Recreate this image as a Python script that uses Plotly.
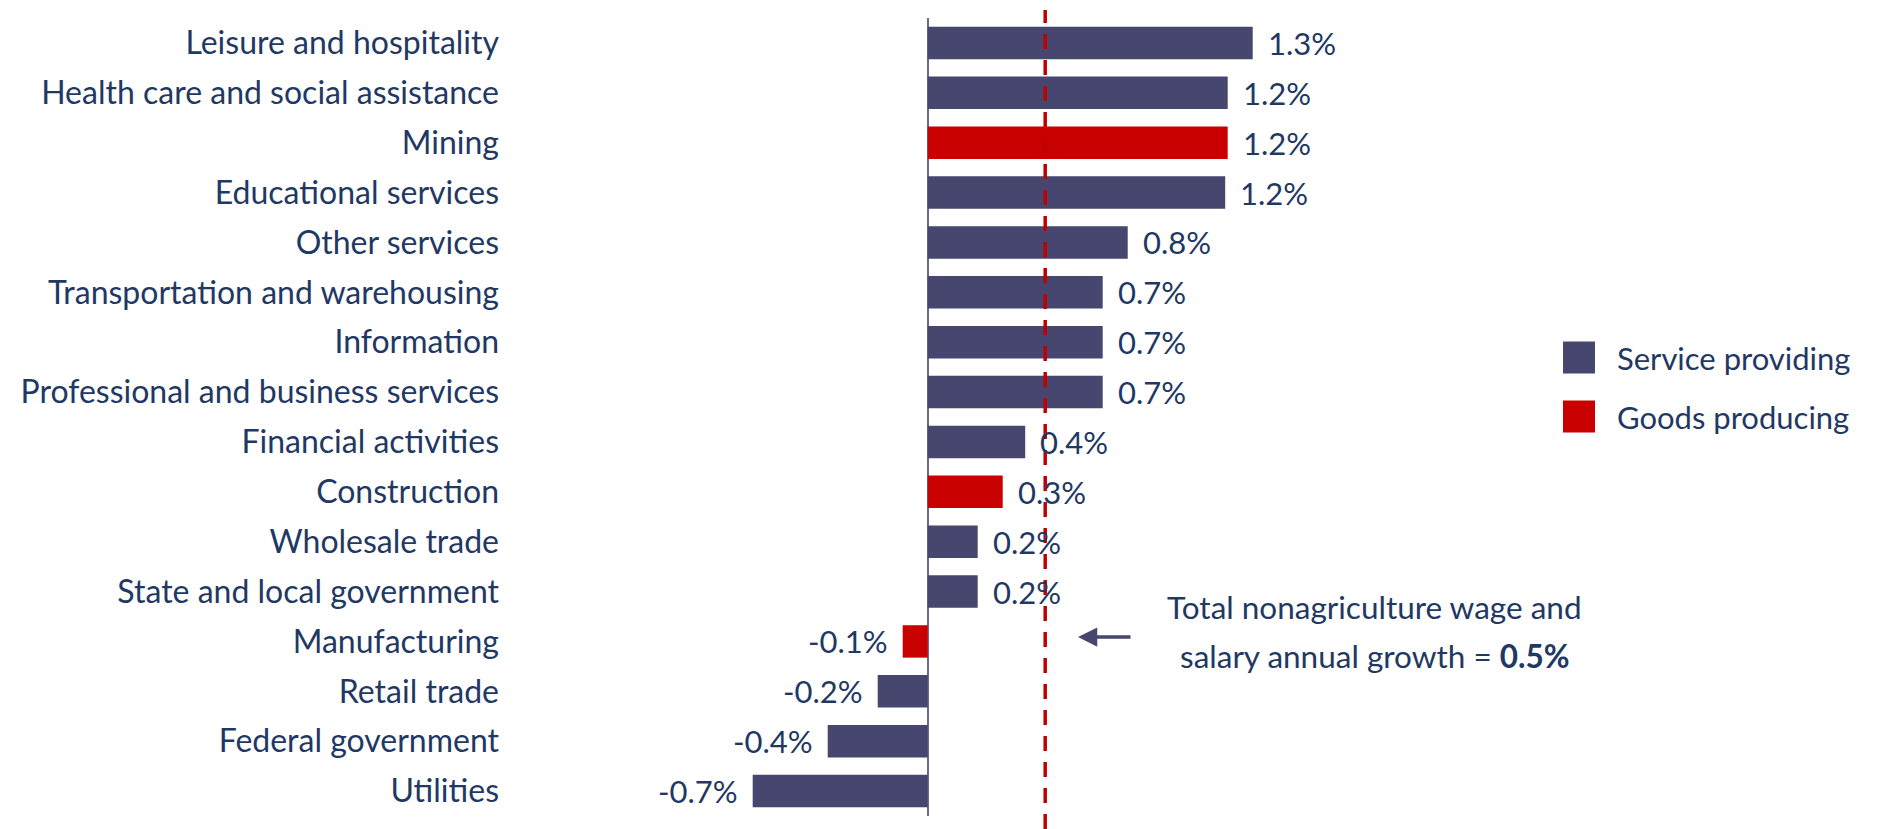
import plotly.graph_objects as go

# ---------------- data ----------------
categories = [
    "Leisure and hospitality",
    "Health care and social assistance",
    "Mining",
    "Educational services",
    "Other services",
    "Transportation and warehousing",
    "Information",
    "Professional and business services",
    "Financial activities",
    "Construction",
    "Wholesale trade",
    "State and local government",
    "Manufacturing",
    "Retail trade",
    "Federal government",
    "Utilities",
]
growth = [1.30, 1.20, 1.20, 1.19, 0.80, 0.70, 0.70, 0.70, 0.39, 0.30, 0.20, 0.20,
          -0.10, -0.20, -0.40, -0.70]
sector = ["Service", "Service", "Goods", "Service", "Service", "Service", "Service",
          "Service", "Service", "Goods", "Service", "Service", "Goods", "Service",
          "Service", "Service"]
total_growth = 0.47
legend_names = {"Service": "Service providing", "Goods": "Goods producing"}

# ---------------- style ----------------
W, H = 1883, 829
ML, MR, MT, MB = 500, 10, 18, 13
PX_PER_UNIT = 250.0
ZERO_PX = 927.7
FONT = "Lato"
TXT = "#1F3864"
COLORS = {"Service": "#46466E", "Goods": "#C80000"}
FS = 31

xmin = -(ZERO_PX - ML) / PX_PER_UNIT
xmax = (W - MR - ZERO_PX) / PX_PER_UNIT
plot_w = W - ML - MR
plot_h = H - MT - MB


def px_x(p):
    return (p - ML) / plot_w


def px_y(p):
    return (H - MB - p) / plot_h


fig = go.Figure()
for key in ["Service", "Goods"]:
    ys = [c for c, s in zip(categories, sector) if s == key]
    xs = [v for v, s in zip(growth, sector) if s == key]
    fig.add_trace(go.Bar(
        x=xs, y=ys, orientation="h", name=legend_names[key],
        marker=dict(color=COLORS[key], line=dict(width=0)),
        showlegend=False, hoverinfo="x+y",
    ))

annotations = []
# value labels
for c, v in zip(categories, growth):
    annotations.append(dict(
        x=v, y=c, xref="x", yref="y",
        text=f"{v:.1f}%", showarrow=False,
        xanchor="left" if v >= 0 else "right",
        xshift=13 if v >= 0 else -13,
        font=dict(family=FONT, size=FS, color=TXT),
    ))

# total annotation text
annotations.append(dict(
    x=px_x(1374.5), y=px_y(607), xref="paper", yref="paper",
    text="Total nonagriculture wage and", showarrow=False,
    xanchor="center", yanchor="middle",
    font=dict(family=FONT, size=FS + 0.5, color=TXT),
))
annotations.append(dict(
    x=px_x(1374.5), y=px_y(656), xref="paper", yref="paper",
    text=f"salary annual growth = <b>{total_growth:.1f}%</b>", showarrow=False,
    xanchor="center", yanchor="middle",
    font=dict(family=FONT, size=FS + 0.5, color=TXT),
))
# arrow
annotations.append(dict(
    x=px_x(1078), y=px_y(637), xref="paper", yref="paper",
    ax=54, ay=0, text="", showarrow=True,
    arrowhead=2, arrowsize=1.1, arrowwidth=3.5, arrowcolor="#46466E",
))

shapes = []
# dashed total line
shapes.append(dict(
    type="line", xref="x", yref="paper",
    x0=total_growth, x1=total_growth, y0=px_y(829), y1=px_y(10),
    line=dict(color="#C00000", width=3.5, dash="15px,11px"), layer="above",
))

# custom legend
leg_items = [("Service", 357.5), ("Goods", 416.5)]
for key, yc in leg_items:
    shapes.append(dict(
        type="rect", xref="paper", yref="paper",
        x0=px_x(1563), x1=px_x(1595), y0=px_y(yc + 16), y1=px_y(yc - 16),
        fillcolor=COLORS[key], line=dict(width=0),
    ))
    annotations.append(dict(
        x=px_x(1615), y=px_y(yc), xref="paper", yref="paper",
        text=legend_names[key], showarrow=False,
        xanchor="left", yanchor="middle",
        font=dict(family=FONT, size=FS, color=TXT),
    ))

fig.update_layout(
    width=W, height=H,
    margin=dict(l=ML, r=MR, t=MT, b=MB, pad=0),
    paper_bgcolor="white", plot_bgcolor="white",
    barmode="overlay", bargap=0.35,
    showlegend=False,
    font=dict(family=FONT, size=FS, color=TXT),
    xaxis=dict(range=[xmin, xmax], showgrid=False, showticklabels=False,
               ticks="", zeroline=True, zerolinecolor="#6A6A8E", zerolinewidth=1.5,
               fixedrange=True),
    yaxis=dict(type="category", categoryorder="array", categoryarray=categories,
               autorange="reversed", showgrid=False, showline=False, ticks="",
               zeroline=False, tickfont=dict(family=FONT, size=FS + 1, color=TXT),
               fixedrange=True),
    annotations=annotations,
    shapes=shapes,
)

fig.write_html("out.html", config={"displayModeBar": False},
               post_script="document.body.style.margin='0';")
